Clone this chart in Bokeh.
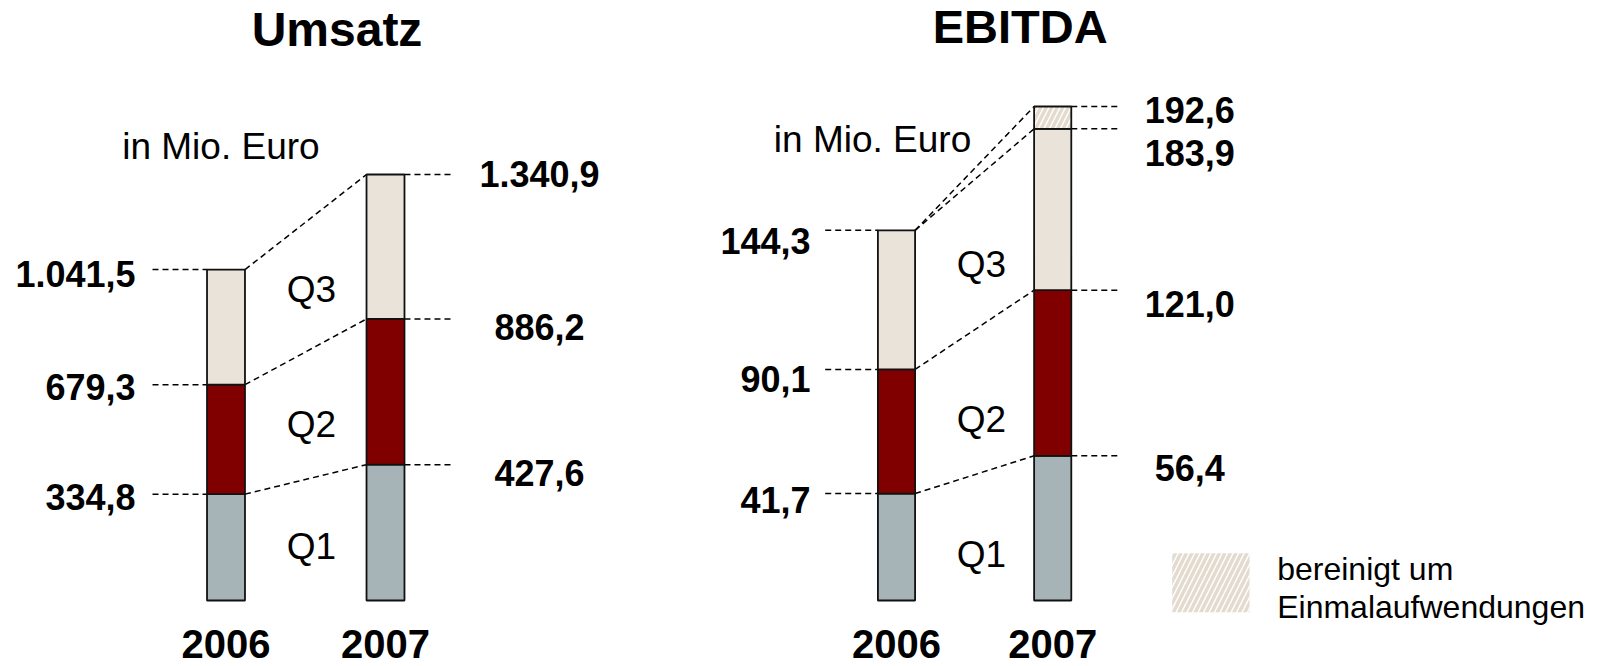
from bokeh.plotting import figure
from bokeh.models import ColumnDataSource, Range1d
from bokeh.layouts import row
from bokeh.embed import file_html
from bokeh.resources import INLINE
from bokeh.core.properties import value

# ---------------- data ----------------
years = [2006, 2007]
quarters = ["Q1", "Q2", "Q3"]
umsatz_2006 = [334.8, 679.3, 1041.5]      # cumulative Q1, Q2, Q3
umsatz_2007 = [427.6, 886.2, 1340.9]
ebitda_2006 = [41.7, 90.1, 144.3]
ebitda_2007 = [56.4, 121.0, 183.9]
ebitda_2007_bereinigt = 192.6
titles = ["Umsatz", "EBITDA"]
unit_label = "in Mio. Euro"
legend_lines = ["bereinigt um", "Einmalaufwendungen"]

# ---------------- style ----------------
Q_COLORS = ["#a6b4b7", "#800000", "#e9e3d9"]
HATCH = "#e3dbce"
FONT = value("Liberation Sans")
H = 666
TOP = 0
BW = 0.238
DASH = dict(line_color="black", line_width=1.5, line_dash="6 4")


def de(v):
    s = f"{v:,.1f}"
    return s.replace(",", "X").replace(".", ",").replace("X", ".")


def make_fig(W, left_page, ppy, c2006_page, zero_page, k):
    xs = years[0] - (c2006_page - left_page) / ppy
    xe = xs + W / ppy
    ys = -(TOP + H - zero_page) / k
    ye = (zero_page - TOP) / k
    p = figure(width=W, height=H, x_range=Range1d(xs, xe), y_range=Range1d(ys, ye),
               output_backend="svg", toolbar_location=None,
               x_axis_location=None, y_axis_location=None,
               min_border=0, outline_line_color=None,
               background_fill_color="white", border_fill_color="white")
    p.grid.visible = False

    def px_x(px):
        return xs + (px - left_page) / W * (xe - xs)

    def px_y(py):
        return ye - (py - TOP) / H * (ye - ys)

    return p, px_x, px_y


def draw_panel(p, v06, v07, ppy, lead_l_px, lead_r_px, lab_l, lab_r, extra=None):
    xs, bots, tops, cols = [], [], [], []
    for yr, vals in zip(years, [v06, v07]):
        prev = 0
        for i, v in enumerate(vals):
            xs.append(yr); bots.append(prev); tops.append(v); cols.append(Q_COLORS[i])
            prev = v
    src = ColumnDataSource(dict(x=xs, bottom=bots, top=tops, color=cols))
    lead_l = lead_l_px / ppy
    lead_r = lead_r_px / ppy
    right_vals = list(v07) + ([extra] if extra is not None else [])
    p.segment(x0=[years[0] - BW / 2 - lead_l] * len(v06), x1=[years[0] - BW / 2] * len(v06),
              y0=v06, y1=v06, **DASH)
    p.segment(x0=[years[1] + BW / 2] * len(right_vals), x1=[years[1] + BW / 2 + lead_r] * len(right_vals),
              y0=right_vals, y1=right_vals, **DASH)
    c0 = list(v06) + ([v06[-1]] if extra is not None else [])
    c1 = list(v07) + ([extra] if extra is not None else [])
    p.segment(x0=[years[0] + BW / 2] * len(c0), x1=[years[1] - BW / 2] * len(c1),
              y0=c0, y1=c1, **DASH)
    p.vbar(x="x", bottom="bottom", top="top", width=BW, fill_color="color",
           line_color="#111111", line_width=1.8, source=src)
    if extra is not None:
        p.vbar(x=[years[1]], bottom=[v07[-1]], top=[extra], width=BW, fill_color="white",
               hatch_pattern="/", hatch_color=HATCH, hatch_scale=11, hatch_weight=3.5,
               line_color="#111111", line_width=1.8)
    lsrc = ColumnDataSource(dict(x=[years[0]] * len(v06), y=v06, t=[de(v) for v in v06],
                                 xo=[lab_l[0]] * len(v06), yo=lab_l[1]))
    p.text(x="x", y="y", text="t", x_offset="xo", y_offset="yo", source=lsrc,
           text_align="right", text_baseline="middle", text_font=FONT,
           text_font_style="bold", text_font_size="36px", text_color="black")
    rsrc = ColumnDataSource(dict(x=[years[1]] * len(right_vals), y=right_vals,
                                 t=[de(v) for v in right_vals],
                                 xo=[lab_r[0]] * len(right_vals), yo=lab_r[1]))
    p.text(x="x", y="y", text="t", x_offset="xo", y_offset="yo", source=rsrc,
           text_align="center", text_baseline="middle", text_font=FONT,
           text_font_style="bold", text_font_size="36px", text_color="black")
    p.text(x=years, y=[0, 0], text=[str(y) for y in years], y_offset=43,
           text_align="center", text_baseline="middle", text_font=FONT,
           text_font_style="bold", text_font_size="40px", text_color="black")


def plain_text(p, x, y, t, size, align="left", bold=False):
    p.text(x=[x], y=[y], text=[t], text_align=align, text_baseline="middle",
           text_font=FONT, text_font_style="bold" if bold else "normal",
           text_font_size=size, text_color="black")


# ---------------- Umsatz ----------------
W1, L1, PPY1 = 700, 0, 159.5
p1, x1, y1 = make_fig(W1, L1, PPY1, 225.5, 600, 0.3177)
draw_panel(p1, umsatz_2006, umsatz_2007, PPY1, 54.5, 48,
           (-90.5, [3, 2, 4]), (154, [8, 8, 0]))
plain_text(p1, x1(336.5), y1(29), titles[0], "48px", "center", True)
plain_text(p1, x1(121.7), y1(145.8), unit_label, "37px")
for q, b in zip(quarters, [546, 424, 288.5]):
    plain_text(p1, x1(311), y1(b), q, "37px", "center")

# ---------------- EBITDA ----------------
W2, L2, PPY2 = 903, 700, 156.2
p2, x2, y2 = make_fig(W2, L2, PPY2, 896, 600, 2.565)
draw_panel(p2, ebitda_2006, ebitda_2007, PPY2, 52.7, 49,
           (-86, [6, 9.6, 11]), (137, [12, 14, 24, 4]), extra=ebitda_2007_bereinigt)
plain_text(p2, x2(1019.7), y2(25.8), titles[1], "47px", "center", True)
plain_text(p2, x2(773.3), y2(138.7), unit_label, "37px")
for q, b in zip(quarters, [554, 418.7, 264]):
    plain_text(p2, x2(981), y2(b), q, "37px", "center")
p2.quad(left=[x2(1171.7)], right=[x2(1249)], top=[y2(552.7)], bottom=[y2(611.7)],
        fill_color="white", line_color=None, hatch_pattern="/", hatch_color=HATCH,
        hatch_scale=11, hatch_weight=3.5)
plain_text(p2, x2(1276.7), y2(568), legend_lines[0], "32px")
plain_text(p2, x2(1276.7), y2(606), legend_lines[1], "32px")

layout = row(p1, p2, spacing=0)
open("out.html", "w").write(file_html(layout, INLINE))
